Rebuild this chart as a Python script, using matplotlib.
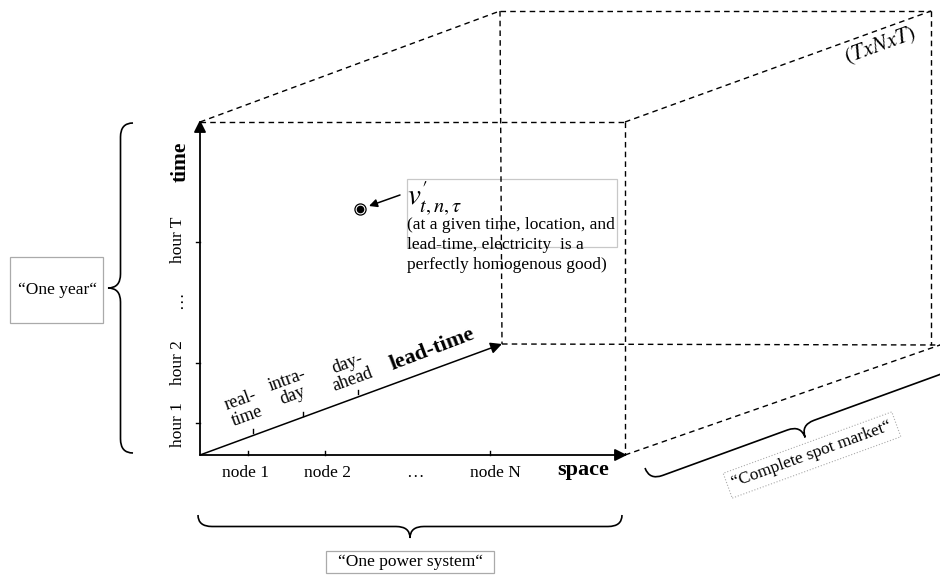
import numpy as np
import matplotlib.pyplot as plt
from matplotlib.path import Path
from matplotlib.patches import PathPatch, Rectangle, FancyArrowPatch

plt.rcParams['font.family'] = ['Liberation Serif', 'DejaVu Serif']
plt.rcParams['mathtext.fontset'] = 'stix'

# axis labels
time_labels = ['hour 1', 'hour 2', '\u2026', 'hour T']
node_labels = ['node 1', 'node 2', '\u2026', 'node N']
lead_labels = ['real-\ntime', 'intra-\nday', 'day-\nahead']
point_label = r"$v^{\prime}_{t,n,\tau}$"
point_note = '(at a given time, location, and\nlead-time, electricity  is a\nperfectly homogenous good)'
cube_label = r'$(TxNxT)$'
brace_labels = ['\u201cOne year\u201c', '\u201cOne power system\u201c', '\u201cComplete spot market\u201c']

# geometry in pixel units (y down)
origin = np.array([200, 455])
space_end = np.array([627, 455])
time_end = np.array([200, 120])
lead_end = np.array([502, 344])
time_ticks = [423, 363, 242]
time_label_y = [425, 363, 300, 240]
node_ticks = [248, 325, 490]
node_label_x = [246, 328, 415, 495]
lead_ticks = [(253, 433), (303, 416), (358, 394)]
lead_label_pos = [(244, 408), (290, 388), (350, 372)]

fig = plt.figure(figsize=(9.4, 5.75), dpi=100)
ax = fig.add_axes([0, 0, 1, 1])
ax.set_xlim(0, 940)
ax.set_ylim(575, 0)
ax.axis('off')

dash = dict(color='black', lw=1, linestyle=(0, (4, 3)))


def line(p, q, **kw):
    ax.plot([p[0], q[0]], [p[1], q[1]], **kw)


def arrow(p, q, lw=1.3, ms=18):
    ax.add_patch(FancyArrowPatch(p, q, arrowstyle='-|>', mutation_scale=ms,
                                 color='black', lw=lw, shrinkA=0, shrinkB=0))


def brace(p0, p1, depth, lw=1.2):
    # curly brace from p0 to p1, tip bulging to the left of the direction p0->p1 (y down)
    p0 = np.asarray(p0, float)
    p1 = np.asarray(p1, float)
    L = np.linalg.norm(p1 - p0)
    u = (p1 - p0) / L
    n = np.array([-u[1], u[0]])
    r = min(14, L / 8)
    h = depth
    local = [(0, 0), (0, h / 2), (r, h / 2), (L / 2 - r, h / 2), (L / 2, h / 2), (L / 2, h),
             (L / 2, h / 2), (L / 2 + r, h / 2), (L - r, h / 2), (L, h / 2), (L, 0)]
    codes = [Path.MOVETO, Path.CURVE3, Path.CURVE3, Path.LINETO, Path.CURVE3, Path.CURVE3,
             Path.CURVE3, Path.CURVE3, Path.LINETO, Path.CURVE3, Path.CURVE3]
    pts = [p0 + a * u + b * n for a, b in local]
    ax.add_patch(PathPatch(Path(pts, codes), fill=False, lw=lw, color='black'))


# cube dashed edges
back_tl = np.array([500, 11])
back_tr = np.array([931, 11])
line((200, 122), (625, 122), **dash)
line((625, 122), (625, 455), **dash)
line((200, 122), back_tl, **dash)
line((625, 122), back_tr, **dash)
line(back_tl, back_tr, **dash)
line(back_tr, (931, 345), **dash)
line(back_tl, lead_end, **dash)
line(lead_end, (940, 345), **dash)
line((625, 455), (940, 345), **dash)

# axes
arrow(origin, space_end)
arrow(origin, time_end)
arrow(origin, lead_end, lw=1.1, ms=17)

for y in time_ticks:
    line((196, y), (200, y), color='black', lw=1)
for x in node_ticks:
    line((x, 455), (x, 451), color='black', lw=1)
for (x, y) in lead_ticks:
    line((x, y), (x, y - 4), color='black', lw=1)

for lab, y in zip(time_labels, time_label_y):
    ax.text(178, y, lab, rotation=90, ha='center', va='center', fontsize=12.5)
ax.text(181, 162, 'time', rotation=90, ha='center', va='center', fontsize=15.5, fontweight='bold')

for lab, x in zip(node_labels, node_label_x):
    ax.text(x, 473, lab, ha='center', va='center', fontsize=12.5)
ax.text(583, 470, 'space', ha='center', va='center', fontsize=16, fontweight='bold')

for lab, (x, y) in zip(lead_labels, lead_label_pos):
    ax.text(x, y, lab, rotation=20, ha='center', va='center', fontsize=13,
            linespacing=1.0, rotation_mode='anchor')
ax.text(432, 349, 'lead-time', rotation=21, ha='center', va='center', fontsize=16,
        fontweight='bold', rotation_mode='anchor')

# point and annotation
ax.plot(360, 209, 'o', ms=8, mfc='white', mec='black', mew=0.9)
ax.plot(360, 209, 'o', ms=4.5, color='black')
ax.add_patch(FancyArrowPatch((400, 195), (369, 206), arrowstyle='-|>', mutation_scale=12,
                             color='black', lw=1.1, shrinkA=0, shrinkB=0))
ax.add_patch(Rectangle((407, 179), 210, 68, fill=False, ec='#c8c8c8', lw=0.9))
ax.text(407, 199, point_label, ha='left', va='center', fontsize=21)
ax.text(407, 245, point_note, ha='left', va='center', fontsize=12.5, linespacing=1.32)

ax.text(880, 46, cube_label, rotation=20, ha='center', va='center', fontsize=16,
        rotation_mode='anchor')

# braces and their labels
brace((133, 123), (133, 453), 25)
ax.add_patch(Rectangle((10, 257), 93, 66, fill=False, ec='#aaaaaa', lw=0.9))
ax.text(57, 290, brace_labels[0], ha='center', va='center', fontsize=12.5)

brace((198, 515), (622, 515), 23)
ax.add_patch(Rectangle((326, 551), 168, 22, fill=False, ec='#aaaaaa', lw=0.9))
ax.text(410, 562, brace_labels[1], ha='center', va='center', fontsize=12.5)

ang = np.deg2rad(20)
u = np.array([np.cos(ang), -np.sin(ang)])
p0 = np.array([645, 468])
brace(p0, p0 + 322 * u, 26)
ax.text(812, 455, brace_labels[2], rotation=20, ha='center', va='center', fontsize=12.5,
        rotation_mode='anchor',
        bbox=dict(boxstyle='square,pad=0.3', fc='white', ec='#aaaaaa', lw=0.8, linestyle=':'))

fig.savefig('out.png', dpi=100)
